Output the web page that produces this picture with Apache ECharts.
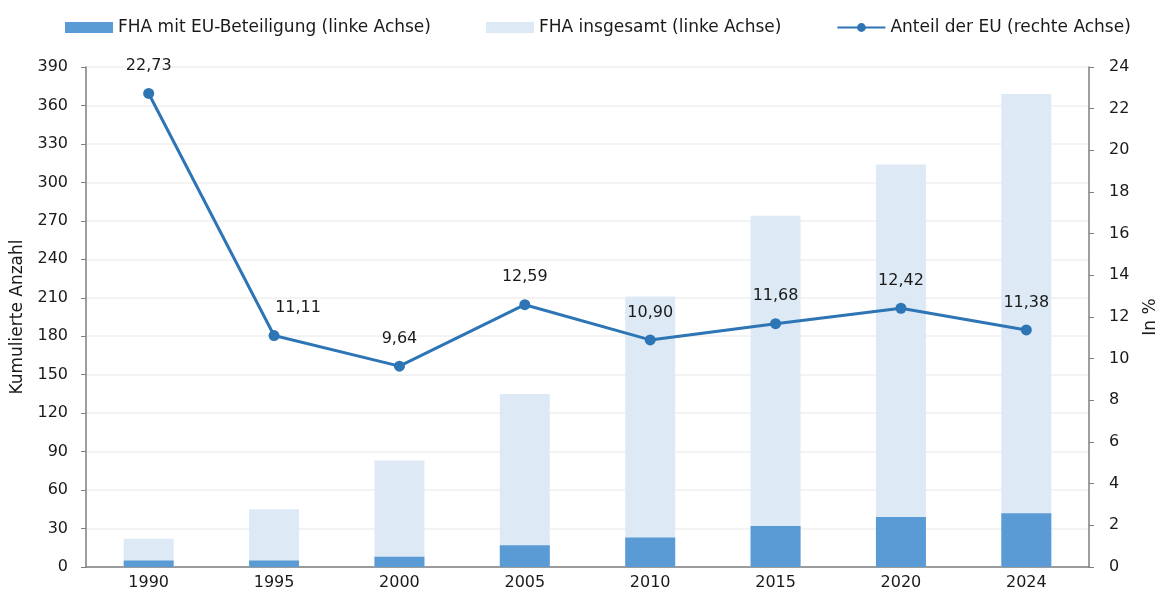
<!DOCTYPE html>
<html>
<head>
<meta charset="utf-8">
<script src="https://cdn.jsdelivr.net/npm/echarts@6/dist/echarts.min.js"></script>
<style>
  html, body { margin: 0; padding: 0; background: #fff; }
  #chart_container { width: 1160px; height: 597px; }
</style>
</head>
<body>
<div id="chart_container"></div>
<script>
const years = ["1990", "1995", "2000", "2005", "2010", "2015", "2020", "2024"]
const fhaEU = [5, 5, 8, 17, 23, 32, 39, 42]
const fhaTotal = [22, 45, 83, 135, 211, 274, 314, 369]
const euShare = [22.73, 11.11, 9.64, 12.59, 10.90, 11.68, 12.42, 11.38]

const fontFam = "'DejaVu Sans', sans-serif"
const textColor = "#1a1a1a"

// the 1995 label sits a little to the right of its point in the original
let shareData = euShare.map((v, i) => {
    if (i === 1) {
        return { value: v, label: { offset: [24, 0] } }
    }
    return v
})

let chart = echarts.init(document.getElementById('chart_container'))

let option = {
    animation: false,
    textStyle: { fontFamily: fontFam, color: textColor },
    legend: {
        top: 14,
        left: 60,
        itemGap: 55,
        itemWidth: 48,
        itemHeight: 11,
        textStyle: { fontSize: 17, color: textColor, fontFamily: fontFam },
        data: [
            { name: "FHA mit EU-Beteiligung (linke Achse)", icon: "rect" },
            { name: "FHA insgesamt (linke Achse)", icon: "rect" },
            "Anteil der EU (rechte Achse)"
        ]
    },
    grid: { left: 86, right: 71, top: 67, bottom: 30, outerBoundsMode: "none" },
    xAxis: {
        type: "category",
        data: years,
        axisLine: { lineStyle: { color: "#7f7f7f", width: 1.5 } },
        axisTick: { show: false },
        axisLabel: { fontSize: 16, color: textColor, margin: 8 }
    },
    yAxis: [
        {
            type: "value",
            min: 0, max: 390, interval: 30,
            name: "Kumulierte Anzahl",
            nameLocation: "middle",
            nameRotate: 90,
            nameGap: 59,
            nameTextStyle: { fontSize: 17, color: textColor },
            axisLine: { show: true, lineStyle: { color: "#7f7f7f", width: 1.5 } },
            axisTick: { show: true, length: 5, lineStyle: { color: "#7f7f7f" } },
            axisLabel: { fontSize: 16, color: textColor, margin: 18 },
            splitLine: { lineStyle: { color: "#efefef", width: 1.5 } }
        },
        {
            type: "value",
            min: 0, max: 24, interval: 2,
            name: "In %",
            nameLocation: "middle",
            nameRotate: 90,
            nameGap: 53,
            nameTextStyle: { fontSize: 17, color: textColor },
            axisLine: { show: true, lineStyle: { color: "#7f7f7f", width: 1.5 } },
            axisTick: { show: true, length: 5, lineStyle: { color: "#7f7f7f" } },
            axisLabel: { fontSize: 16, color: textColor, margin: 20 },
            splitLine: { show: false }
        }
    ],
    series: [
        {
            name: "FHA insgesamt (linke Achse)",
            type: "bar",
            yAxisIndex: 0,
            barWidth: 50,
            barGap: "-100%",
            itemStyle: { color: "#ddeaf6" },
            data: fhaTotal
        },
        {
            name: "FHA mit EU-Beteiligung (linke Achse)",
            type: "bar",
            yAxisIndex: 0,
            barWidth: 50,
            barGap: "-100%",
            itemStyle: { color: "#5b9bd5" },
            data: fhaEU
        },
        {
            name: "Anteil der EU (rechte Achse)",
            type: "line",
            yAxisIndex: 1,
            symbol: "circle",
            symbolSize: 11,
            lineStyle: { color: "#2e75b6", width: 3 },
            itemStyle: { color: "#2e75b6" },
            label: {
                show: true,
                position: "top",
                distance: 14,
                fontSize: 16,
                color: textColor,
                formatter: p => p.value.toFixed(2).replace(".", ",")
            },
            data: shareData
        }
    ]
}

chart.setOption(option)
</script>
</body>
</html>
